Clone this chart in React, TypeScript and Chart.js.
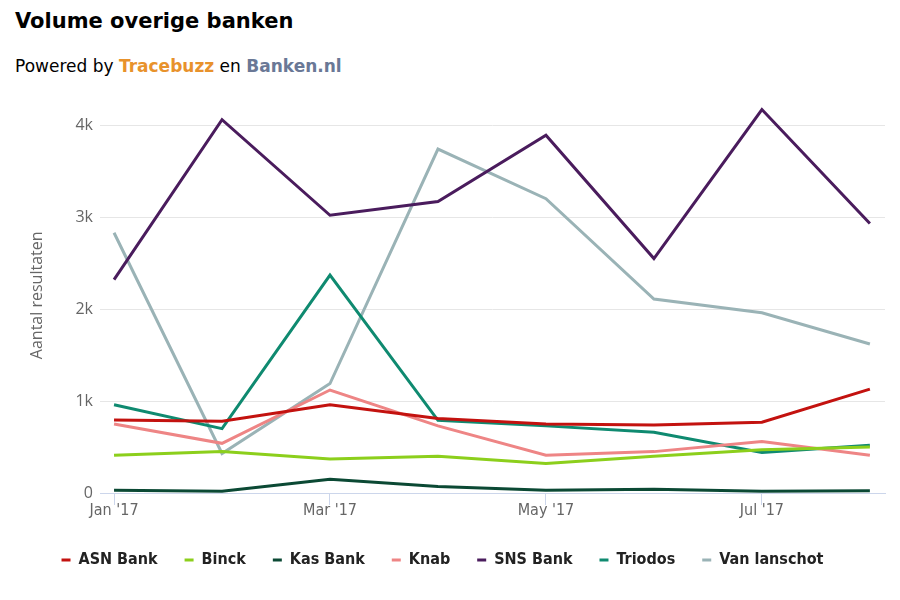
import React, { useEffect, useRef } from "react";
import { Chart, registerables } from "chart.js";
Chart.register(...registerables);

const months = ["Jan '17", "Feb '17", "Mar '17", "Apr '17", "May '17", "Jun '17", "Jul '17", "Aug '17"];
const xTickIndices = [0, 2, 4, 6];
const yTicks = [0, 1000, 2000, 3000, 4000];

const asnBank = [795, 780, 960, 810, 750, 740, 770, 1130];
const binck = [410, 450, 370, 400, 320, 400, 470, 500];
const kasBank = [30, 20, 150, 70, 30, 40, 20, 25];
const knab = [750, 540, 1120, 730, 410, 450, 560, 410];
const snsBank = [2320, 4060, 3020, 3170, 3890, 2550, 4170, 2930];
const triodos = [960, 700, 2370, 790, 730, 660, 440, 520];
const vanLanschot = [2830, 430, 1190, 3740, 3200, 2110, 1960, 1620];

const seriesNames = ["ASN Bank", "Binck", "Kas Bank", "Knab", "SNS Bank", "Triodos", "Van lanschot"];
const seriesValues = [asnBank, binck, kasBank, knab, snsBank, triodos, vanLanschot];
const seriesColors = ["#c3120f", "#8ccf1c", "#0b4934", "#ee8585", "#4a1c5d", "#0f8a70", "#9ab3b6"];

function fmtK(v: number): string {
  return v === 0 ? "0" : v / 1000 + "k";
}

export default function App() {
  const ref = useRef<HTMLCanvasElement | null>(null);
  useEffect(() => {
    if (!ref.current) return;
    const chart = new Chart(ref.current, {
      type: "line",
      data: {
        datasets: seriesNames.map((name, i) => ({
          label: name,
          data: seriesValues[i].map((v, j) => ({ x: j, y: v })),
          borderColor: seriesColors[i],
          backgroundColor: seriesColors[i],
          borderWidth: 3,
          pointRadius: 0,
          tension: 0,
          fill: false,
        })),
      },
      options: {
        animation: false,
        responsive: true,
        maintainAspectRatio: false,
        layout: { padding: { left: 0, right: 15, top: 7, bottom: 13 } },
        plugins: {
          tooltip: { enabled: false },
          legend: {
            position: "bottom",
            labels: {
              boxWidth: 9,
              boxHeight: 3,
              padding: 27,
              color: "#222",
              font: { family: "'Liberation Sans Narrow', 'DejaVu Sans Condensed', sans-serif", size: 16, weight: "bold" },
              generateLabels: (c: any) =>
                Chart.defaults.plugins.legend.labels.generateLabels(c).map((l: any) => ({
                  ...l,
                  lineWidth: 0,
                  fillStyle: l.strokeStyle,
                })),
            },
          },
        },
        scales: {
          x: {
            type: "linear",
            min: -0.13,
            max: 7.14,
            afterBuildTicks: (s: any) => {
              s.ticks = xTickIndices.map((v) => ({ value: v }));
            },
            afterFit: (s: any) => {
              s.height = 32;
            },
            border: { display: true, color: "#ccd6eb", width: 1 },
            grid: { drawOnChartArea: false, drawTicks: true, tickLength: 12, color: "#ccd6eb" },
            ticks: {
              padding: -4,
              color: "#666",
              maxRotation: 0,
              autoSkip: false,
              font: { family: "'Liberation Sans Narrow', 'DejaVu Sans Condensed', sans-serif", size: 16 },
              callback: (v: any) => months[Math.round(Number(v))] ?? "",
            },
          },
          y: {
            min: 0,
            max: 4300,
            afterBuildTicks: (s: any) => {
              s.ticks = yTicks.map((v) => ({ value: v }));
            },
            afterFit: (s: any) => {
              s.width = 100;
            },
            border: { display: false },
            grid: { color: "#e6e6e6", drawTicks: false, lineWidth: 1 },
            ticks: {
              padding: 7,
              color: "#666",
              font: { family: "'Open Sans', 'DejaVu Sans', sans-serif", size: 16 },
              callback: (v: any) => fmtK(Number(v)),
            },
            title: {
              display: true,
              text: "Aantal resultaten",
              color: "#666",
              padding: { top: 28, bottom: 0 },
              font: { family: "'Open Sans', 'DejaVu Sans', sans-serif", size: 16 },
            },
          },
        },
      },
    } as any);
    return () => chart.destroy();
  }, []);

  return (
    <div style={{ position: "absolute", left: 0, top: 0, width: 900, height: 600, background: "#fff" }}>
      <div
        style={{
          position: "absolute",
          left: 15,
          top: 9,
          fontFamily: "'DejaVu Sans', sans-serif",
          fontWeight: "bold",
          fontSize: 21,
          color: "#000",
          whiteSpace: "nowrap",
        }}
      >
        Volume overige banken
      </div>
      <div
        style={{
          position: "absolute",
          left: 15,
          top: 56,
          fontFamily: "'DejaVu Sans', sans-serif",
          fontSize: 17,
          color: "#000",
          whiteSpace: "nowrap",
        }}
      >
        Powered by <span style={{ color: "#e8922c", fontWeight: "bold" }}>Tracebuzz</span> en{" "}
        <span style={{ color: "#6a7896", fontWeight: "bold" }}>Banken.nl</span>
      </div>
      <div style={{ position: "absolute", left: 0, top: 81, width: 900, height: 510 }}>
        <canvas ref={ref} />
      </div>
    </div>
  );
}
